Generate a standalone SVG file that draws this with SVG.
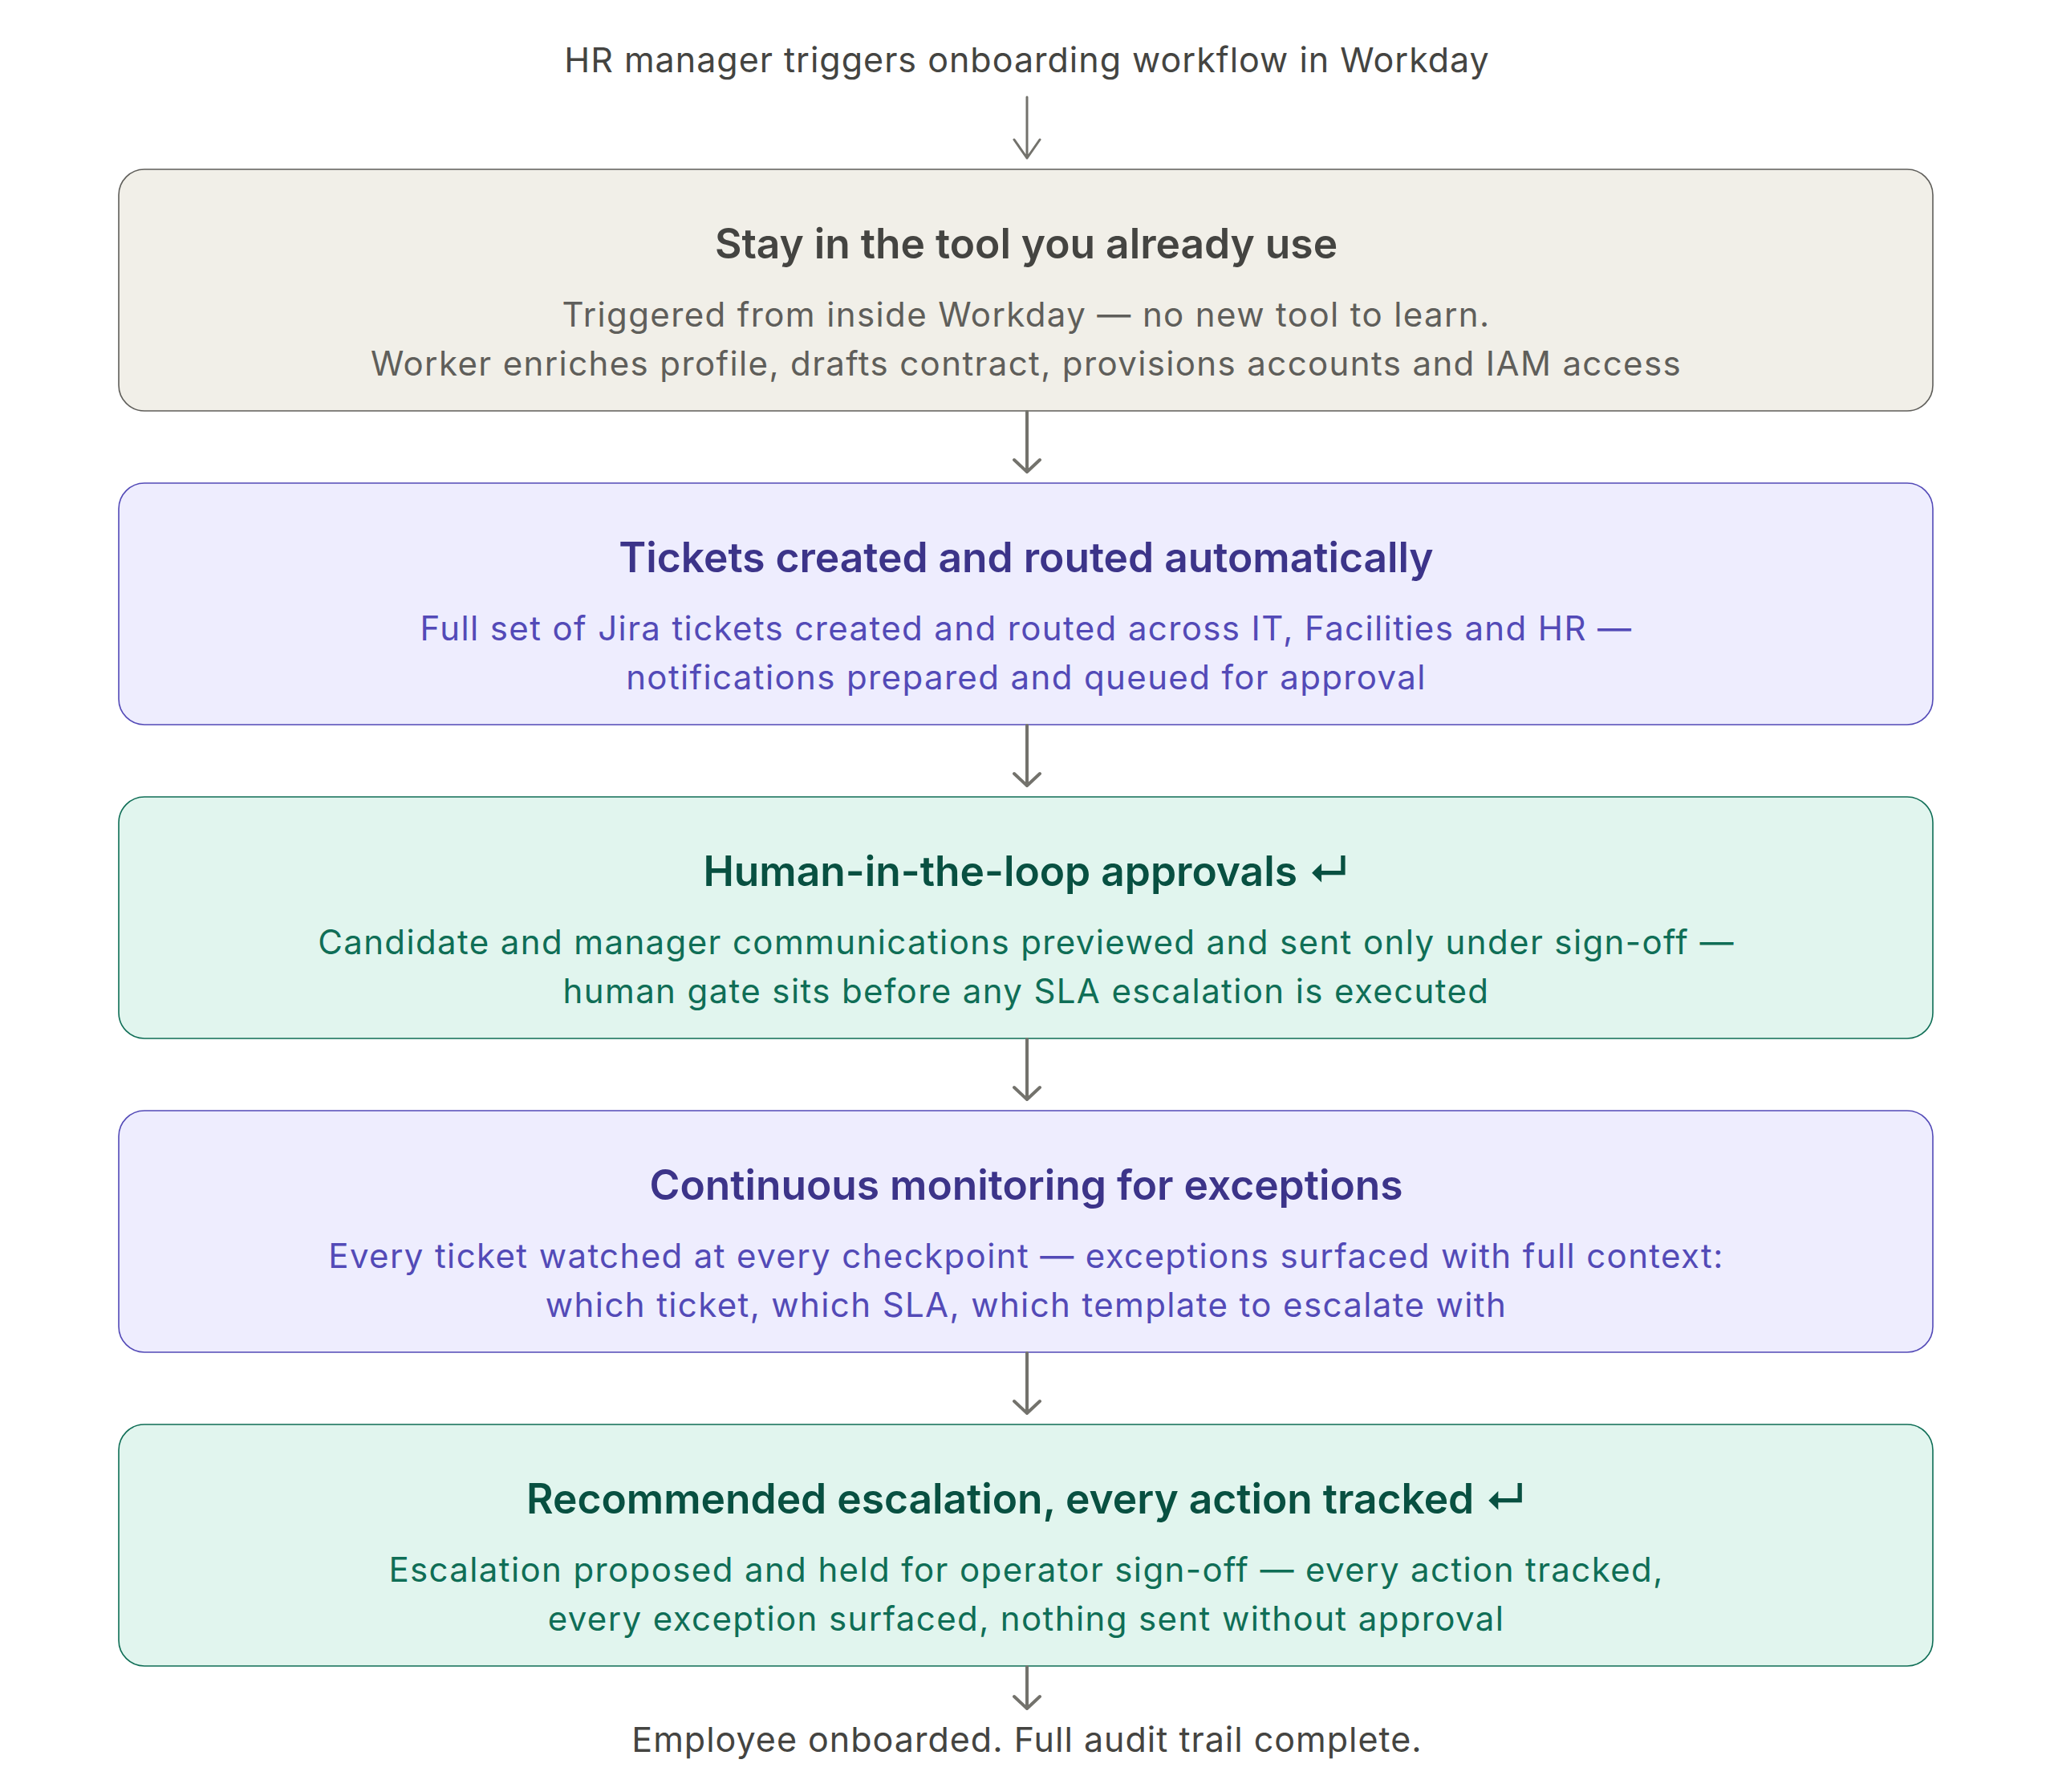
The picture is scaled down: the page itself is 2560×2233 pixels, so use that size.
<svg xmlns="http://www.w3.org/2000/svg" width="2560" height="2233" viewBox="0 0 2560 2233">
<style>
text{font-family:Inter,"Noto Sans","DejaVu Sans",sans-serif;text-anchor:middle}
.ext{font-size:43px;fill:#444441;letter-spacing:1px}
.t{font-size:51.5px;font-weight:600}
.b{font-size:42px;letter-spacing:1.38px}
.box{stroke-width:1.6}
.gray rect{fill:#f1efe8;stroke:#5f5e5a}
.gray .t{fill:#444441}.gray .b{fill:#5f5e5a}
.pur rect{fill:#eeedfe;stroke:#534ab7}
.pur .t{fill:#3c3489}.pur .b{fill:#534ab7}
.grn rect{fill:#e1f5ee;stroke:#0f6e56}
.grn .t{fill:#085041}.grn .b{fill:#0f6e56}
.c{fill:none;stroke:#73726c;stroke-width:4;stroke-linecap:round;stroke-linejoin:round}
</style>
<rect width="2560" height="2233" fill="#ffffff"/>
<g id="start"><text class="ext" x="1280" y="90">HR manager triggers onboarding workflow in Workday</text></g>
<g id="n1" class="gray"><rect class="box" x="148" y="211" width="2261" height="301" rx="32"/>
<text class="t" x="1279" y="322">Stay in the tool you already use</text>
<text class="b" x="1279" y="407">Triggered from inside Workday — no new tool to learn.</text>
<text class="b" x="1279" y="468">Worker enriches profile, drafts contract, provisions accounts and IAM access</text></g>
<g id="n2" class="pur"><rect class="box" x="148" y="602" width="2261" height="301" rx="32"/>
<text class="t" x="1279" y="713">Tickets created and routed automatically</text>
<text class="b" x="1279" y="798">Full set of Jira tickets created and routed across IT, Facilities and HR —</text>
<text class="b" x="1279" y="859">notifications prepared and queued for approval</text></g>
<g id="n3" class="grn"><rect class="box" x="148" y="993" width="2261" height="301" rx="32"/>
<text class="t" x="1279" y="1104">Human-in-the-loop approvals ↵</text>
<text class="b" x="1279" y="1189">Candidate and manager communications previewed and sent only under sign-off —</text>
<text class="b" x="1279" y="1250">human gate sits before any SLA escalation is executed</text></g>
<g id="n4" class="pur"><rect class="box" x="148" y="1384" width="2261" height="301" rx="32"/>
<text class="t" x="1279" y="1495">Continuous monitoring for exceptions</text>
<text class="b" x="1279" y="1580">Every ticket watched at every checkpoint — exceptions surfaced with full context:</text>
<text class="b" x="1279" y="1641">which ticket, which SLA, which template to escalate with</text></g>
<g id="n5" class="grn"><rect class="box" x="148" y="1775" width="2261" height="301" rx="32"/>
<text class="t" x="1279" y="1886">Recommended escalation, every action tracked ↵</text>
<text class="b" x="1279" y="1971">Escalation proposed and held for operator sign-off — every action tracked,</text>
<text class="b" x="1279" y="2032">every exception surfaced, nothing sent without approval</text></g>
<g id="end"><text class="ext" x="1280" y="2183">Employee onboarded. Full audit trail complete.</text></g>
<g id="connectors">
<path class="c" style="stroke-width:3" d="M1280 121V197M1264 174L1280 197L1296 174"/>
<path class="c" d="M1280 513V588M1264 573L1280 588L1296 573"/>
<path class="c" d="M1280 904V979M1264 964L1280 979L1296 964"/>
<path class="c" d="M1280 1295V1370M1264 1355L1280 1370L1296 1355"/>
<path class="c" d="M1280 1686V1761M1264 1746L1280 1761L1296 1746"/>
<path class="c" d="M1280 2077V2129M1264 2114L1280 2129L1296 2114"/>
</g>
</svg>
